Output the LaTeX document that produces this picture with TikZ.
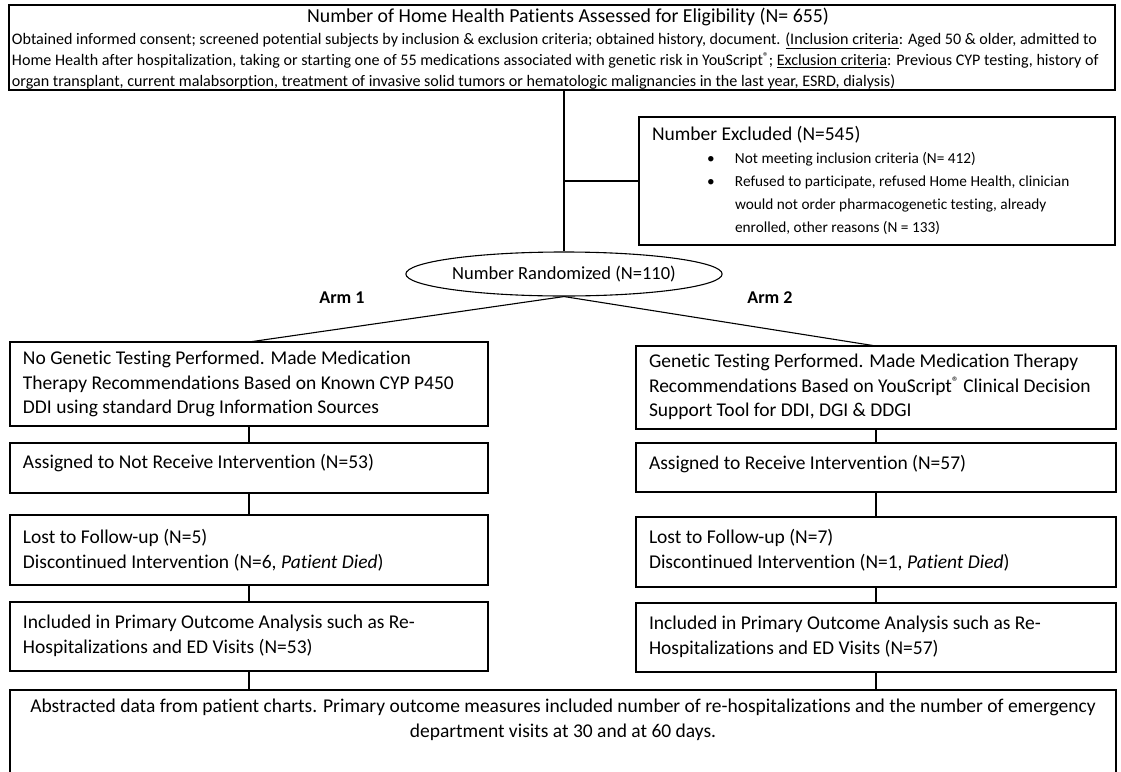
\documentclass[tikz,border=0pt]{standalone}
\usepackage{fontspec}
\setmainfont{Carlito}[Ligatures=NoCommon]
\usetikzlibrary{shapes.geometric}
\newcommand\regmk{\raisebox{0.3em}{\scalebox{0.7}{®}}}
\begin{document}
\begin{tikzpicture}[x=1pt,y=-1pt,
  box/.style={draw, line width=1.2pt, rectangle, inner sep=0pt, outer sep=0pt, anchor=north west},
  line/.style={draw, line width=1.1pt},
  txt/.style={inner sep=0pt, outer sep=0pt, align=left, font=\fontsize{19.5}{24.5}\selectfont},
  toptxt/.style={inner sep=0pt, outer sep=0pt, align=left, font=\fontsize{16.1}{21}\selectfont},
  exctxt/.style={inner sep=0pt, outer sep=0pt, align=left, font=\fontsize{15.3}{23}\selectfont},
  armlbl/.style={inner sep=0pt, font=\fontsize{18}{20}\selectfont\bfseries}]
\useasboundingbox (0,0) rectangle (1121,771);
\clip (0,0) rectangle (1121,771);
% top box
\node[box, minimum width=1106pt, minimum height=85pt] (top) at (9,5) {};
\node[inner sep=0pt, font=\fontsize{19.8}{22}\selectfont] (toptitle) at (568,17) {Number of Home Health Patients Assessed for Eligibility (N= 655)};
\node[toptxt, anchor=west] (topbody) at (12,61) {Obtained informed consent; screened potential subjects by inclusion \& exclusion criteria; obtained history, document. \underline{(Inclusion criteria}: Aged 50 \& older, admitted to\\
Home Health after hospitalization, taking or starting one of 55 medications associated with genetic risk in YouScript\regmk; \underline{Exclusion criteria}: Previous CYP testing, history of\\
organ transplant, current malabsorption, treatment of invasive solid tumors or hematologic malignancies in the last year, ESRD, dialysis)};
% excluded box
\node[box, minimum width=476pt, minimum height=128pt] (excl) at (639,117) {};
\node[exctxt, anchor=west] (excltxt) at (652,180) {{\fontsize{19.5}{23}\selectfont Number Excluded (N=545)}\\
\hspace*{55pt}\makebox[28pt][l]{•}Not meeting inclusion criteria (N= 412)\\
\hspace*{55pt}\makebox[28pt][l]{•}Refused to participate, refused Home Health, clinician\\
\hspace*{83pt}would not order pharmacogenetic testing, already\\
\hspace*{83pt}enrolled, other reasons (N = 133)};
% randomized
\node[draw, ellipse, line width=1.1pt, minimum width=252pt, minimum height=44pt, inner sep=0pt, font=\fontsize{18.5}{20}\selectfont] (rand) at (564,274) {Number Randomized (N=110)};
\draw[line] (rand.north |- top.south) -- (rand.north);
\draw[line] (rand.north |- excl.west) -- (excl.west);
\node[armlbl] (arm1) at (342,298) {Arm 1};
\node[armlbl] (arm2) at (770,298) {Arm 2};
% left column
\node[box, minimum width=478pt, minimum height=84pt] (L1) at (10,342) {};
\node[box, minimum width=478pt, minimum height=50pt] (L2) at (10,443) {};
\node[box, minimum width=478pt, minimum height=70pt] (L3) at (10,515) {};
\node[box, minimum width=478pt, minimum height=69pt] (L4) at (10,602) {};
% right column
\node[box, minimum width=480pt, minimum height=83pt] (R1) at (636,346) {};
\node[box, minimum width=480pt, minimum height=49pt] (R2) at (636,443) {};
\node[box, minimum width=480pt, minimum height=70pt] (R3) at (636,517) {};
\node[box, minimum width=480pt, minimum height=69pt] (R4) at (636,603) {};
% bottom box
\node[box, minimum width=1106pt, minimum height=100pt] (bot) at (10,690) {};
% texts
\node[txt, anchor=west] (L1t) at (23,384) {No Genetic Testing Performed. Made Medication\\Therapy Recommendations Based on Known CYP P450\\DDI using standard Drug Information Sources};
\node[txt, anchor=west] (L2t) at (23,463) {Assigned to Not Receive Intervention (N=53)};
\node[txt, anchor=west] (L3t) at (23,550) {Lost to Follow-up (N=5)\\Discontinued Intervention (N=6, \textit{Patient Died})};
\node[txt, anchor=west] (L4t) at (23,636) {Included in Primary Outcome Analysis such as Re-\\Hospitalizations and ED Visits (N=53)};
\node[txt, anchor=west] (R1t) at (649,387) {Genetic Testing Performed. Made Medication Therapy\\Recommendations Based on YouScript\regmk{} Clinical Decision\\Support Tool for DDI, DGI \& DDGI};
\node[txt, anchor=west] (R2t) at (649,464) {Assigned to Receive Intervention (N=57)};
\node[txt, anchor=west] (R3t) at (649,550) {Lost to Follow-up (N=7)\\Discontinued Intervention (N=1, \textit{Patient Died})};
\node[txt, anchor=west] (R4t) at (649,637) {Included in Primary Outcome Analysis such as Re-\\Hospitalizations and ED Visits (N=57)};
\node[txt, align=center] (bott) at (563,720) {Abstracted data from patient charts. Primary outcome measures included number of re-hospitalizations and the number of emergency\\department visits at 30 and at 60 days.};
% connectors
\draw[line] (rand.south) -- (L1.north);
\draw[line] (rand.south) -- (R1.north);
\draw[line] (L1.south) -- (L2.north);
\draw[line] (L2.south) -- (L3.north);
\draw[line] (L3.south) -- (L4.north);
\draw[line] (L4.south) -- (L4.south |- bot.north);
\draw[line] (R1.south) -- (R2.north);
\draw[line] (R2.south) -- (R3.north);
\draw[line] (R3.south) -- (R4.north);
\draw[line] (R4.south) -- (R4.south |- bot.north);
\end{tikzpicture}
\end{document}
